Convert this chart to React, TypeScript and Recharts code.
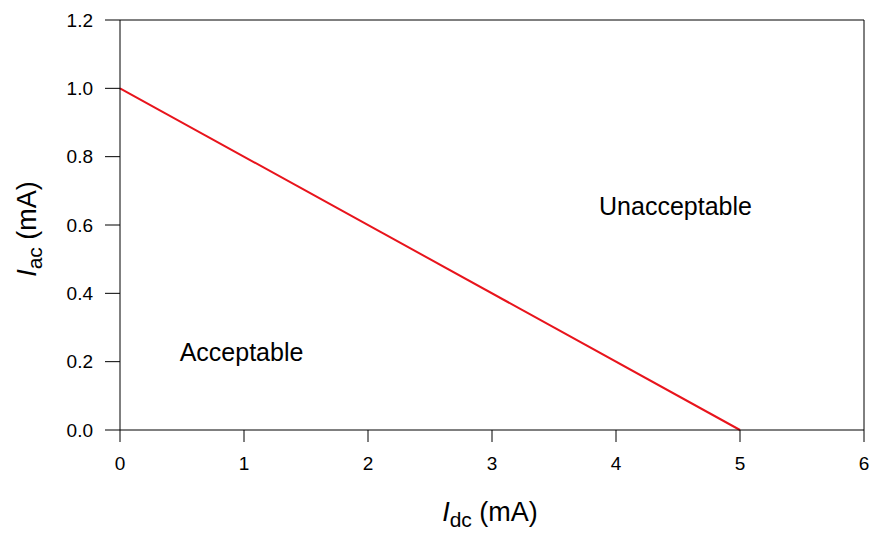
import React from 'react';
import {
    LineChart,
    Line,
    XAxis,
    YAxis,
    ReferenceLine,
    ReferenceDot,
} from 'recharts';

// boundary between acceptable and unacceptable region
const idcValues = [0, 5];
const iacValues = [1.0, 0.0];

const xTicks = [0, 1, 2, 3, 4, 5, 6];
const yTicks = [0, 0.2, 0.4, 0.6, 0.8, 1.0, 1.2];

const regionLabels = ['Unacceptable', 'Acceptable'];
const regionX = [4.48, 0.98];
const regionY = [0.655, 0.228];

const data = idcValues.map((x, i) => ({ x, y: iacValues[i] }));

const FONT = '"Liberation Sans", Arial, sans-serif';

const XTitle = (props: any) => {
    const vb = props.viewBox;
    const cx = vb.x + vb.width / 2;
    return (
        <text x={cx - 2} y={521} textAnchor="middle" fontFamily={FONT} fontSize={27} fill="#000">
            <tspan fontStyle="italic">I</tspan>
            <tspan fontSize={21} dy={6}>dc</tspan>
            <tspan dy={-6}> (mA)</tspan>
        </text>
    );
};

const YTitle = () => (
    <text
        x={0}
        y={0}
        transform="translate(36 229) rotate(-90)"
        textAnchor="middle"
        fontFamily={FONT}
        fontSize={27}
        fill="#000"
    >
        <tspan fontStyle="italic">I</tspan>
        <tspan fontSize={21} dy={6}>ac</tspan>
        <tspan dy={-6}> (mA)</tspan>
    </text>
);

const App: React.FC = () => {
    return (
        <div style={{ position: 'absolute', left: 0, top: 0, width: 873, height: 533, background: '#fff' }}>
            <LineChart
                width={873}
                height={533}
                data={data}
                margin={{ top: 20, right: 9, left: 60, bottom: 43 }}
            >
                <XAxis
                    dataKey="x"
                    type="number"
                    domain={[0, 6]}
                    ticks={xTicks}
                    height={60}
                    tickSize={12}
                    tickMargin={15}
                    stroke="#000"
                    tick={{ fill: '#000', fontSize: 19, fontFamily: FONT }}
                    label={<XTitle />}
                />
                <YAxis
                    dataKey="y"
                    type="number"
                    domain={[0, 1.2]}
                    ticks={yTicks}
                    width={60}
                    tickSize={15}
                    tickMargin={12}
                    stroke="#000"
                    tickFormatter={(v: number) => v.toFixed(1)}
                    tick={{ fill: '#000', fontSize: 19, fontFamily: FONT }}
                    label={<YTitle />}
                />
                <ReferenceLine y={1.2} stroke="#000" />
                <ReferenceLine x={6} stroke="#000" />
                <Line
                    dataKey="y"
                    stroke="#e8141c"
                    strokeWidth={2}
                    dot={false}
                    isAnimationActive={false}
                />
                {regionLabels.map((t, i) => (
                    <ReferenceDot
                        key={t}
                        x={regionX[i]}
                        y={regionY[i]}
                        r={0}
                        stroke="none"
                        fill="none"
                        label={{
                            value: t,
                            position: 'center',
                            fill: '#000',
                            fontSize: 25,
                            fontFamily: FONT,
                        }}
                    />
                ))}
            </LineChart>
        </div>
    );
};

export default App;
